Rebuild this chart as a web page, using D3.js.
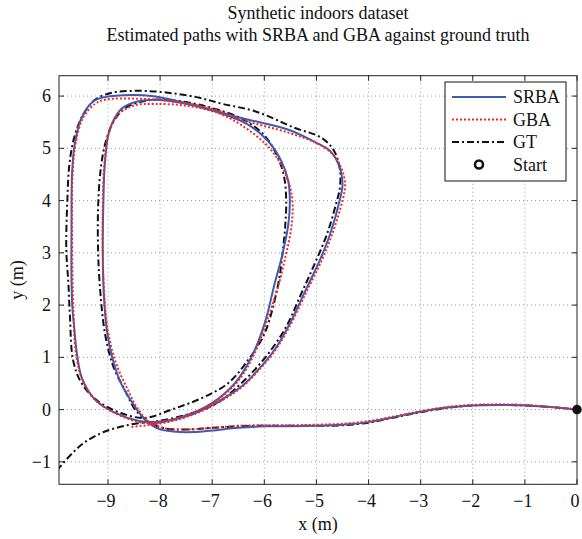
<!DOCTYPE html>
<html><head><meta charset="utf-8">
<script src="https://cdn.jsdelivr.net/npm/d3@7"></script>
<style>body{margin:0;background:#fff}svg{display:block}text{font-family:"Liberation Serif","Times New Roman",serif;fill:#111}</style>
</head><body>
<svg id="c" width="582" height="539"></svg>
<script>
const titleLines = ["Synthetic indoors dataset", "Estimated paths with SRBA and GBA against ground truth"];
const xTicks = [-9,-8,-7,-6,-5,-4,-3,-2,-1,0];
const yTicks = [-1,0,1,2,3,4,5,6];
const xLabel = "x (m)", yLabel = "y (m)";
const legendNames = ["SRBA","GBA","GT","Start"];
const startPoint = [0,0];

// SRBA estimated path (x, y in metres)
const srba = [
[0,0],[-0.5,0.05],[-1,0.08],[-1.5,0.09],[-2,0.08],[-2.5,0.04],[-3,-0.04],[-3.5,-0.14],[-4,-0.24],[-4.5,-0.29],
[-5,-0.31],[-5.5,-0.32],[-6,-0.32],[-6.5,-0.35],[-7,-0.4],[-7.35,-0.43],[-7.75,-0.42],[-8.05,-0.36],
[-8.3,-0.18],[-8.5,0.08],[-8.75,0.5],[-8.92,1.0],[-9.02,1.5],[-9.08,2.2],[-9.1,3.0],[-9.09,3.9],[-9.06,4.7],
[-8.97,5.35],[-8.75,5.75],[-8.5,5.88],[-8.1,5.93],[-7.6,5.87],[-6.95,5.71],[-6.32,5.46],[-5.93,5.14],[-5.67,4.75],
[-5.54,4.37],[-5.51,3.99],[-5.54,3.54],[-5.67,2.9],[-5.8,2.42],[-5.99,1.66],[-6.24,1.02],[-6.56,0.51],[-7.01,0.12],
[-7.59,-0.14],[-8.1,-0.24],
[-8.4,-0.22],[-8.87,-0.06],[-9.25,0.19],[-9.5,0.6],[-9.6,1.1],[-9.65,1.6],[-9.68,1.9],[-9.7,2.5],[-9.7,3.5],
[-9.69,4.5],[-9.64,5.07],[-9.51,5.58],[-9.28,5.9],[-9.06,5.98],[-8.55,6.02],[-8.16,6.0],[-7.27,5.81],[-6.44,5.58],
[-5.55,5.36],[-5.03,5.12],[-4.74,4.95],[-4.57,4.68],[-4.5,4.31],[-4.55,4.02],[-4.74,3.35],[-4.93,2.87],[-5.2,2.3],
[-5.54,1.59],[-5.8,1.15],[-6.12,0.76],[-6.44,0.44],[-6.82,0.19],[-7.33,-0.07],[-7.9,-0.23],[-8.15,-0.27]
];

// GBA estimated path
const gba = [
[0,0],[-0.5,0.05],[-1,0.09],[-1.5,0.1],[-2,0.09],[-2.5,0.05],[-3,-0.03],[-3.5,-0.13],[-4,-0.22],[-4.5,-0.27],
[-5,-0.29],[-5.5,-0.3],[-6,-0.3],[-6.5,-0.31],[-7,-0.35],[-7.5,-0.38],[-7.9,-0.36],[-8.2,-0.24],
[-8.42,0.0],[-8.62,0.38],[-8.85,0.9],[-9.0,1.5],[-9.07,2.2],[-9.1,3.0],[-9.1,3.9],[-9.07,4.7],[-8.98,5.3],
[-8.8,5.65],[-8.5,5.82],[-8.1,5.85],[-7.46,5.81],[-6.82,5.65],[-6.18,5.26],[-5.8,4.88],[-5.54,4.37],[-5.46,3.99],
[-5.48,3.5],[-5.6,2.9],[-5.75,2.3],[-5.95,1.7],[-6.2,1.05],[-6.5,0.55],[-6.95,0.15],[-7.5,-0.12],[-8.1,-0.25],
[-8.4,-0.24],[-8.9,-0.05],[-9.28,0.22],[-9.52,0.65],[-9.63,1.2],[-9.66,1.8],[-9.68,2.5],[-9.69,3.5],[-9.68,4.5],
[-9.62,5.1],[-9.48,5.58],[-9.25,5.85],[-9.06,5.93],[-8.42,5.95],[-7.78,5.9],[-7.0,5.76],[-6.44,5.55],[-5.54,5.3],
[-4.95,5.08],[-4.68,4.88],[-4.52,4.62],[-4.45,4.31],[-4.5,4.0],[-4.7,3.35],[-4.9,2.85],[-5.17,2.3],[-5.5,1.62],
[-5.78,1.15],[-6.1,0.76],[-6.42,0.44],[-6.82,0.17],[-7.33,-0.08],[-7.9,-0.25],[-8.55,-0.33]
];

// Ground truth path
const gt = [
[0,0],[-0.5,0.05],[-1,0.08],[-1.5,0.09],[-2,0.08],[-2.5,0.03],[-3,-0.05],[-3.5,-0.15],[-4,-0.25],[-4.5,-0.3],
[-5,-0.31],[-5.5,-0.31],[-6,-0.31],[-6.5,-0.32],[-7,-0.35],[-7.5,-0.38],[-7.9,-0.36],[-8.15,-0.28],
[-8.35,-0.13],[-8.48,0.0],[-8.68,0.38],[-8.9,0.83],[-9.06,1.47],[-9.16,2.42],[-9.19,3.06],[-9.19,3.86],[-9.14,4.6],
[-9.05,5.1],[-8.9,5.5],[-8.7,5.75],[-8.45,5.87],[-8.1,5.93],[-7.6,5.9],[-7.0,5.77],[-6.4,5.55],[-6.0,5.25],
[-5.75,4.85],[-5.62,4.45],[-5.58,4.0],[-5.6,3.5],[-5.65,3.0],[-5.73,2.42],[-5.99,1.47],[-6.31,0.95],[-6.69,0.51],
[-7.2,0.22],[-7.78,0.0],[-8.29,-0.16],
[-8.74,-0.07],[-9.19,0.16],[-9.51,0.51],[-9.67,0.95],[-9.73,1.78],[-9.76,2.42],[-9.8,3.06],[-9.78,4.0],
[-9.74,4.7],[-9.65,5.2],[-9.5,5.6],[-9.25,5.93],[-8.9,6.07],[-8.48,6.1],[-8.0,6.08],[-7.3,5.98],[-6.8,5.85],
[-6.18,5.71],[-5.41,5.39],[-4.9,5.2],[-4.66,4.95],[-4.55,4.6],[-4.55,4.25],[-4.62,3.95],[-4.8,3.35],[-5.03,2.8],
[-5.3,2.2],[-5.6,1.55],[-6.02,0.95],[-6.5,0.45],[-6.95,0.1],[-7.5,-0.1],[-8.1,-0.23],[-8.48,-0.27],
[-9.06,-0.42],[-9.45,-0.63],[-9.7,-0.85],[-9.94,-1.12],[-10.1,-1.3]
];

const W = 582, H = 539;
const L = 59, R = 577, T = 75.7, B = 484.3;
const svg = d3.select("#c");
const x = d3.scaleLinear().domain([-9.94, 0]).range([L, R]);
const y = d3.scaleLinear().domain([-1.43, 6.39]).range([B, T]);
const fmt = d => d < 0 ? "\u2212" + Math.abs(d) : String(d);

// title
svg.selectAll("text.title").data(titleLines).join("text")
  .attr("class","title").attr("x", (L+R)/2).attr("y", (d,i)=>19+i*22)
  .attr("text-anchor","middle").attr("font-size",18).text(d=>d);

// grid
const g = svg.append("g");
g.selectAll("line.gx").data(xTicks.filter(d=>d>-9.94 && d<0)).join("line")
  .attr("x1",d=>x(d)).attr("x2",d=>x(d)).attr("y1",T).attr("y2",B)
  .attr("stroke","#9a9a9a").attr("stroke-width",1).attr("stroke-dasharray","1,3");
g.selectAll("line.gy").data(yTicks).join("line")
  .attr("y1",d=>y(d)).attr("y2",d=>y(d)).attr("x1",L).attr("x2",R)
  .attr("stroke","#9a9a9a").attr("stroke-width",1).attr("stroke-dasharray","1,3");

// clip
svg.append("clipPath").attr("id","clip").append("rect").attr("x",L).attr("y",T).attr("width",R-L).attr("height",B-T);

const line = d3.line().x(d=>x(d[0])).y(d=>y(d[1])).curve(d3.curveCatmullRom.alpha(0.5));
const paths = svg.append("g").attr("clip-path","url(#clip)");
paths.append("path").datum(gt).attr("d",line).attr("fill","none").attr("stroke","#111")
  .attr("stroke-width",2).attr("stroke-dasharray","7,3,2,3");
paths.append("path").datum(srba).attr("d",line).attr("fill","none").attr("stroke","#3f5bb0")
  .attr("stroke-width",2);
paths.append("path").datum(gba).attr("d",line).attr("fill","none").attr("stroke","#f02828")
  .attr("stroke-width",2).attr("stroke-dasharray","2,2");

// axes box with inward ticks
const ax = svg.append("g");
ax.append("rect").attr("x",L).attr("y",T).attr("width",R-L).attr("height",B-T)
  .attr("fill","none").attr("stroke","#222").attr("stroke-width",1);
const tl = 5;
xTicks.forEach(d=>{
  ax.append("line").attr("x1",x(d)).attr("x2",x(d)).attr("y1",B).attr("y2",B-tl).attr("stroke","#222");
  ax.append("line").attr("x1",x(d)).attr("x2",x(d)).attr("y1",T).attr("y2",T+tl).attr("stroke","#222");
});
yTicks.forEach(d=>{
  ax.append("line").attr("y1",y(d)).attr("y2",y(d)).attr("x1",L).attr("x2",L+tl).attr("stroke","#222");
  ax.append("line").attr("y1",y(d)).attr("y2",y(d)).attr("x1",R).attr("x2",R-tl).attr("stroke","#222");
});
ax.selectAll("text.xt").data(xTicks).join("text").attr("class","xt")
  .attr("x",d=>x(d)-2).attr("y",507).attr("text-anchor","middle").attr("font-size",18).text(fmt);
ax.selectAll("text.yt").data(yTicks).join("text").attr("class","yt")
  .attr("x",L-8).attr("y",d=>y(d)+6).attr("text-anchor","end").attr("font-size",18).text(fmt);
ax.append("text").attr("x",(L+R)/2).attr("y",530).attr("text-anchor","middle").attr("font-size",18).text(xLabel);
ax.append("text").attr("transform",`translate(23,${(T+B)/2}) rotate(-90)`).attr("text-anchor","middle").attr("font-size",18).text(yLabel);

// start marker
svg.append("circle").attr("cx",x(startPoint[0])).attr("cy",y(startPoint[1])).attr("r",3.5)
  .attr("fill","#111").attr("stroke","#111").attr("stroke-width",2.5);

// legend
const lg = svg.append("g").attr("transform","translate(445,82)");
lg.append("rect").attr("width",121).attr("height",99).attr("fill","#fff").attr("stroke","#111").attr("stroke-width",1);
const styles = [
  {stroke:"#3f5bb0", dash:null},
  {stroke:"#f02828", dash:"2,2"},
  {stroke:"#111", dash:"7,3,2,3"}
];
legendNames.forEach((n,i)=>{
  const yy = 15 + i*22.5;
  if (i<3) {
    lg.append("line").attr("x1",7).attr("x2",61).attr("y1",yy).attr("y2",yy)
      .attr("stroke",styles[i].stroke).attr("stroke-width",2).attr("stroke-dasharray",styles[i].dash);
  } else {
    lg.append("circle").attr("cx",34).attr("cy",yy).attr("r",4).attr("fill","none").attr("stroke","#111").attr("stroke-width",2.5);
  }
  lg.append("text").attr("x",68).attr("y",yy+6).attr("font-size",18).text(n);
});
</script>
</body></html>
